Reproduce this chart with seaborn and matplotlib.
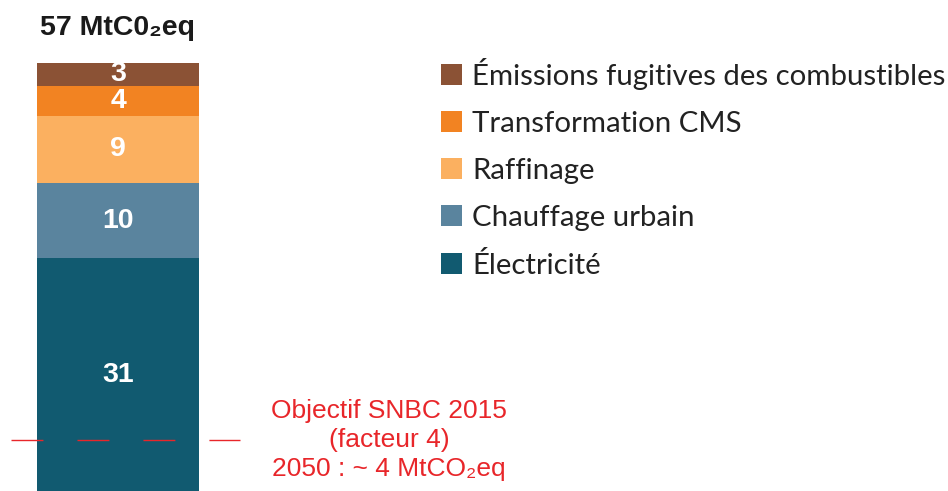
import seaborn as sns
import matplotlib.pyplot as plt
import pandas as pd

# Données
secteurs = ['Électricité', 'Chauffage urbain', 'Raffinage', 'Transformation CMS',
            'Émissions fugitives des combustibles']
valeurs = [31, 10, 9, 4, 3]
couleurs = ['#115a70', '#5a849e', '#fbb060', '#f28322', '#8b5235']
titre = '57 MtC0₂eq'
objectif_niveau = 6.8  # position de la ligne pointillée
objectif_texte = 'Objectif SNBC 2015\n(facteur 4)\n2050 : ~ 4 MtCO₂eq'

df = pd.DataFrame({'secteur': secteurs, 'valeur': valeurs, 'couleur': couleurs})
df['cumul'] = df['valeur'].cumsum()
df['barre'] = '2015'

sns.set_style('white')
fig = plt.figure(figsize=(9.48, 4.91), dpi=100)
ax = fig.add_axes([0, 0, 1, 1])

# Barres empilées : on trace du cumul le plus grand au plus petit
for i in reversed(range(len(df))):
    row = df.iloc[i]
    sns.barplot(x=[row['barre']], y=[row['cumul']], color=row['couleur'], saturation=1,
                width=0.4, linewidth=0, label=row['secteur'], ax=ax)
    ax.text(0, row['cumul'] - row['valeur'] / 2, str(row['valeur']), ha='center', va='center',
            color='white', fontsize=20.5, fontweight='bold', family=['Liberation Sans', 'DejaVu Sans'])

ax.set_xlim(-0.2914, 2.049)
ax.set_ylim(0, 65.39)
ax.axis('off')

# Ligne objectif
ax.axhline(objectif_niveau, xmin=11 / 948, xmax=240 / 948, color='#e8262a', linewidth=1,
           dashes=(23.0, 24.5))
fig.text(389 / 948, 1 - 440 / 491, objectif_texte, ha='center', va='center', color='#e8262a',
         fontsize=19, linespacing=1.27, family=['Liberation Sans', 'DejaVu Sans'])

# Titre
fig.text(118 / 948, 1 - 28 / 491, titre, ha='center', va='center', color='#1a1a1a',
         fontsize=20.5, fontweight='bold', family=['Liberation Sans', 'DejaVu Sans'])

# Légende
leg = ax.legend(loc='upper left', bbox_to_anchor=(441 / 948, 1 - 58 / 491),
                bbox_transform=fig.transFigure, frameon=False,
                handlelength=0.714, handleheight=0.714, handletextpad=0.34,
                labelspacing=0.71, borderpad=0, borderaxespad=0,
                prop={'family': ['Lato', 'DejaVu Sans'], 'size': 21.2})
for t in leg.get_texts():
    t.set_color('#222222')

plt.savefig('out.png', dpi=100)
